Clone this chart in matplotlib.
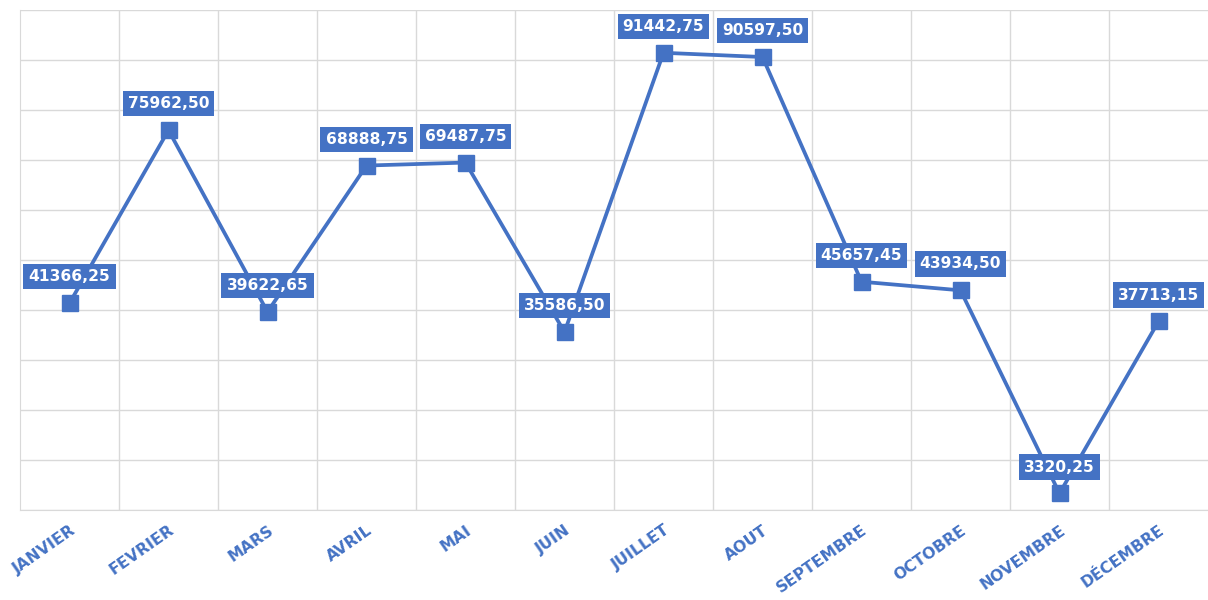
import matplotlib.pyplot as plt

mois = ["JANVIER", "FEVRIER", "MARS", "AVRIL", "MAI", "JUIN", "JUILLET",
        "AOUT", "SEPTEMBRE", "OCTOBRE", "NOVEMBRE", "DÉCEMBRE"]
valeurs = [41366.25, 75962.50, 39622.65, 68888.75, 69487.75, 35586.50,
           91442.75, 90597.50, 45657.45, 43934.50, 3320.25, 37713.15]

bleu = "#4472C4"
gris = "#d9d9d9"


def fmt(v):
    return f"{v:.2f}".replace(".", ",")


def main():
    fig = plt.figure(figsize=(12.08, 6.0), dpi=100)
    ax = fig.add_axes([20 / 1208, 1 - 510 / 600, 1 - 20 / 1208, 500 / 600])

    x = list(range(len(mois)))
    ax.plot(x, valeurs, color=bleu, lw=2.7, marker="s", ms=11.5, zorder=3)

    for xi, v in zip(x, valeurs):
        ax.annotate(fmt(v), (xi, v), xytext=(0, 19), textcoords="offset points",
                    ha="center", va="center", color="white", fontsize=11.2,
                    family="DejaVu Sans", weight="bold", zorder=4,
                    bbox=dict(boxstyle="square,pad=0.33", fc=bleu, ec="none"))

    ax.set_xlim(-0.5, len(mois) - 0.5)
    ax.set_ylim(0, 100000)
    ax.set_yticks(range(0, 100001, 10000))
    ax.set_yticklabels([])
    ax.set_xticks([i + 0.5 for i in x[:-1]], minor=True)
    ax.set_xticks(x)
    ax.set_xticklabels(mois, rotation=35, ha="right", rotation_mode="anchor",
                       color=bleu, fontsize=11.3, family="DejaVu Sans", weight="bold")
    ax.tick_params(axis="both", which="both", length=0)
    ax.tick_params(axis="x", pad=9)
    ax.grid(axis="y", color=gris, lw=1)
    ax.grid(axis="x", which="minor", color=gris, lw=1)
    ax.set_axisbelow(True)
    for s in ["top", "right"]:
        ax.spines[s].set_visible(False)
    ax.spines["left"].set_color(gris)
    ax.spines["bottom"].set_color(gris)
    ax.spines["bottom"].set_linestyle((0, (2, 1)))

    fig.savefig("out.png", dpi=100)


if __name__ == "__main__":
    main()
